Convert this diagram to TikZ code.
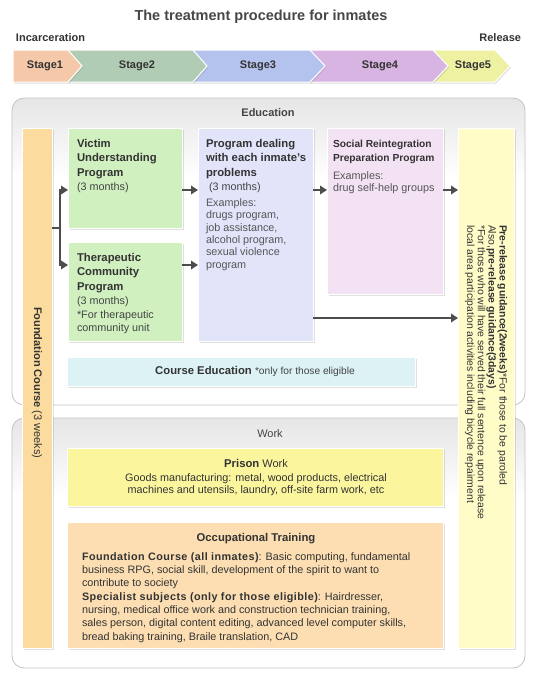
\documentclass[tikz,border=0pt]{standalone}
\usepackage{fontspec}
\setmainfont{Liberation Sans}
\usepackage{tikz}
\usetikzlibrary{positioning,arrows.meta,calc,shadows}

\definecolor{txt}{HTML}{333333}
\definecolor{bodytxt}{HTML}{444444}
\definecolor{softtxt}{HTML}{555555}
\definecolor{arrowgray}{HTML}{4D4D4D}
\definecolor{panelline}{HTML}{C4C4C4}
\definecolor{stone}{HTML}{F6C8AA}
\definecolor{sttwo}{HTML}{B1CCB4}
\definecolor{stthree}{HTML}{B4C3EE}
\definecolor{stfour}{HTML}{D7B4E1}
\definecolor{stfive}{HTML}{EEF0A2}
\definecolor{fndcol}{HTML}{FCDC9E}
\definecolor{greencol}{HTML}{D0F0C0}
\definecolor{dealcol}{HTML}{E2E4FA}
\definecolor{socialcol}{HTML}{F2E2F4}
\definecolor{releasecol}{HTML}{FFFCC8}
\definecolor{coursecol}{HTML}{DCF2F5}
\definecolor{prisoncol}{HTML}{FBF59E}
\definecolor{occcol}{HTML}{FCDEB2}

\begin{document}
\begin{tikzpicture}[
		x=1pt, y=-1pt,
		>={Triangle[length=7pt, width=8.5pt]},
		every node/.style={text=txt, inner sep=0pt, outer sep=0pt},
		stagearrow/.style={draw=white, line width=1pt, drop shadow={shadow xshift=1pt, shadow yshift=-1.5pt, opacity=.25}},
		stagelabel/.style={font=\fontsize{11}{13}\selectfont\bfseries},
		panel/.style={draw=panelline, line width=.8pt, rounded corners=12pt},
		box/.style={draw=white, line width=1pt, anchor=north west, drop shadow={shadow xshift=1.5pt, shadow yshift=-1.5pt, opacity=.25}},
		head/.style={font=\fontsize{11.3}{14.3}\selectfont\bfseries, align=left, anchor=north west},
		body/.style={font=\fontsize{10.8}{12.4}\selectfont, text=bodytxt, align=left},
		flow/.style={->, draw=arrowgray, line width=2.6pt},
		flowline/.style={draw=arrowgray, line width=2.6pt}
		]
		\useasboundingbox (0,0) rectangle (535,680);
		\fill[white] (0,0) rectangle (535,680);
		
		% Title and time line
		\node[font=\fontsize{14.5}{17}\selectfont\bfseries, text=txt!90] (title) at (261,17) {The treatment procedure for inmates};
		\node[stagelabel, anchor=west] (start) at (16,38) {Incarceration};
		\node[stagelabel, anchor=east] (end) at (521,38) {Release};
		
		% Stage chevrons, last one first so every tip lies on top
		\draw[stagearrow, fill=stfive] (433,50) -- (495,50) -- (510,66) -- (495,82) -- (433,82) -- cycle;
		\draw[stagearrow, fill=stfour] (310,50) -- (433,50) -- (448,66) -- (433,82) -- (310,82) -- cycle;
		\draw[stagearrow, fill=stthree] (193,50) -- (310,50) -- (325,66) -- (310,82) -- (193,82) -- cycle;
		\draw[stagearrow, fill=sttwo] (68,50) -- (193,50) -- (207,66) -- (193,82) -- (68,82) -- cycle;
		\draw[stagearrow, fill=stone] (13,50) -- (68,50) -- (82,66) -- (68,82) -- (13,82) -- cycle;
		\node[stagelabel] (stage1) at (45,66) {Stage1};
		\node[stagelabel] (stage2) at (137,66) {Stage2};
		\node[stagelabel] (stage3) at (258,66) {Stage3};
		\node[stagelabel] (stage4) at (380,66) {Stage4};
		\node[stagelabel] (stage5) at (473,66) {Stage5};
		
		% Panels Education / Work
		\shade[top color=gray!20, bottom color=white, rounded corners=12pt] (12,98) rectangle (525,178);
		\draw[panel] (12,98) rectangle (525,405);
		\shade[top color=gray!20, bottom color=white, rounded corners=12pt] (12,418) rectangle (525,498);
		\draw[panel] (12,418) rectangle (525,668);
		\node[font=\fontsize{11}{13}\selectfont\bfseries, text=bodytxt] (edu) at (268,113) {Education};
		\node[font=\fontsize{11}{13}\selectfont, text=bodytxt] (work) at (270,434) {Work};
		
		% Boxes
		\node[box, fill=fndcol, minimum width=30, minimum height=520] (found) at (22,128) {};
		\node[box, fill=greencol, minimum width=114, minimum height=100] (victim) at (68,128) {};
		\node[box, fill=greencol, minimum width=114, minimum height=99] (thera) at (68,242) {};
		\node[box, fill=dealcol, minimum width=115, minimum height=213] (deal) at (198,128) {};
		\node[box, fill=socialcol, minimum width=116, minimum height=166] (social) at (327,128) {};
		\node[box, fill=releasecol, minimum width=56, minimum height=520] (release) at (458,128) {};
		\node[box, fill=coursecol, minimum width=348, minimum height=29] (course) at (67,357) {};
		\node[box, fill=prisoncol, minimum width=376, minimum height=58] (prison) at (67,448) {};
		\node[box, fill=occcol, minimum width=376, minimum height=126] (occ) at (67,522) {};
		
		% Texts in the boxes
		\node[rotate=-90, anchor=west, font=\fontsize{11}{13}\selectfont] (foundtxt) at ([yshift=-179pt]found.north) {\textbf{Foundation Course} (3 weeks)};
		
		\node[head] (victimhead) at ([shift={(9,11.5)}]victim.north west) {Victim\\Understanding\\Program};
		\node[body, below=3.5pt of victimhead.south west, anchor=north west] (victimtxt) {(3 months)};
		
		\node[head] (therahead) at ([shift={(9,11.5)}]thera.north west) {Therapeutic\\Community\\Program};
		\node[body, below=3.5pt of therahead.south west, anchor=north west] (theratxt) {(3 months)\\[2.5pt]*For therapeutic\\community unit};
		
		\node[head] (dealhead) at ([shift={(8,11.5)}]deal.north west) {Program dealing\\with each inmate’s\\problems};
		\node[body, below=4pt of dealhead.south west, anchor=north west] (dealtxt) {\ (3 months)\\[3.5pt]{\color{softtxt}Examples:}\\{\color{softtxt}drugs program,}\\{\color{softtxt}job assistance,}\\{\color{softtxt}alcohol program,}\\{\color{softtxt}sexual violence}\\{\color{softtxt}program}};
		
		\node[head, font=\fontsize{10.2}{14}\selectfont\bfseries] (socialhead) at ([shift={(6,12)}]social.north west) {Social Reintegration\\Preparation Program};
		\node[body, text=softtxt, below=8pt of socialhead.south west, anchor=north west] (socialtxt) {Examples:\\drug self-help groups};
		
		\node[rotate=-90, anchor=west, align=left, font=\fontsize{10.4}{10.8}\selectfont] (releasetxt) at ([yshift=-97pt]release.north) {\textbf{Pre-release guidance(2weeks)}*For those to be paroled\\Also,\textbf{pre-release guidance(3days)}\\*For those who will have served their full sentence upon release\\local area participation activities including bicycle repairment};
		
		\node[font=\fontsize{11.3}{13}\selectfont] (coursetxt) at (255,371) {\textbf{Course Education} {\fontsize{10.2}{12}\selectfont\color{bodytxt}*only for those eligible}};
		
		\node[body, align=center, anchor=north, text=txt] (prisontxt) at (256,459.5) {{\fontsize{11.3}{13}\selectfont\bfseries Prison} {\fontsize{11}{13}\selectfont Work}\\[1.5pt]Goods manufacturing: metal, wood products, electrical\\machines and utensils, laundry, off-site farm work, etc};
		
		\node[font=\fontsize{11.3}{13}\selectfont\bfseries, anchor=north] (occhead) at (256,533.5) {Occupational Training};
		\node[body, anchor=north west, text=txt, font=\fontsize{10.8}{13.3}\selectfont] (occtxt) at (82,552.5) {{\bfseries\addfontfeature{LetterSpace=4}Foundation Course (all inmates)}: Basic computing, fundamental\\business RPG, social skill, development of the spirit to want to\\contribute to society\\{\bfseries\addfontfeature{LetterSpace=4}Specialist subjects (only for those eligible)}: Hairdresser,\\nursing, medical office work and construction technician training,\\sales person, digital content editing, advanced level computer skills,\\bread baking training, Braile translation, CAD};
		
		% Arrows
		\coordinate (split) at (60,228);
		\coordinate (upper) at (60,190);
		\coordinate (lower) at (60,265);
		\coordinate (bypass) at (0,318);
		\draw[flowline] (found.east |- split) -- (split);
		\draw[flow] (split) |- (victim.west |- upper);
		\draw[flow] (split) |- (thera.west |- lower);
		\draw[flow] (victim.east |- upper) -- (deal.west |- upper);
		\draw[flow] (thera.east |- lower) -- (deal.west |- lower);
		\draw[flow] (deal.east |- upper) -- (social.west |- upper);
		\draw[flow] (social.east |- upper) -- (release.west |- upper);
		\draw[flow] (deal.east |- bypass) -- (release.west |- bypass);
	\end{tikzpicture}
\end{document}
